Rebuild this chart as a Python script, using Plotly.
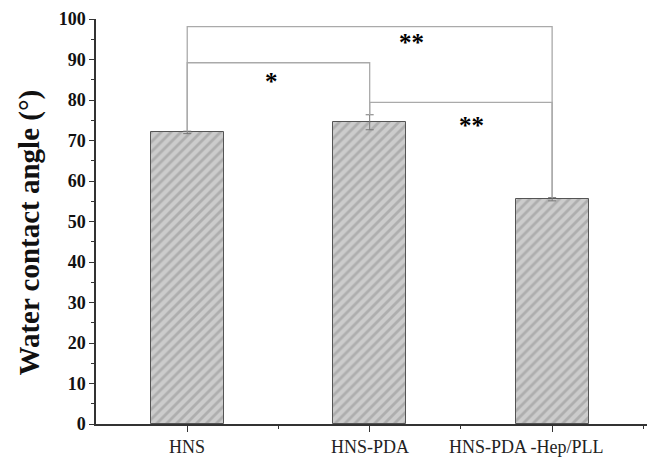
import plotly.graph_objects as go

categories = ["HNS", "HNS-PDA", "HNS-PDA -Hep/PLL"]
contact_angle = [72.0, 74.5, 55.5]
error = [0.3, 1.85, 0.4]
y_ticks = [0, 10, 20, 30, 40, 50, 60, 70, 80, 90, 100]

# significance brackets: (start category index, end category index, bracket height, label, label x, label y)
brackets = [
    (0, 2, 98.1, "**", 1.23, 95.0),
    (0, 1, 89.2, "*", 0.46, 85.3),
    (1, 2, 79.4, "**", 1.56, 74.5),
]

x = list(range(len(categories)))
tops = [v + e for v, e in zip(contact_angle, error)]

fig = go.Figure()
fig.add_trace(go.Bar(
    x=x, y=contact_angle, width=0.4,
    marker=dict(
        color="#cfcfcf",
        line=dict(color="#555555", width=1),
        pattern=dict(shape="/", fgcolor="#909090", bgcolor="#cccccc", size=7, solidity=0.4),
    ),
    error_y=dict(type="data", array=error, visible=True, color="#777777", thickness=1, width=4),
    showlegend=False,
))

line_style = dict(color="#aaaaaa", width=1.3)
for i0, i1, h, lab, lx, ly in brackets:
    fig.add_trace(go.Scatter(
        x=[x[i0], x[i0], x[i1], x[i1]],
        y=[tops[i0], h, h, tops[i1]],
        mode="lines", line=line_style, showlegend=False, hoverinfo="skip",
    ))
    fig.add_annotation(
        x=lx, y=ly, xref="x", yref="y", text="<b>" + lab + "</b>", showarrow=False,
        font=dict(family="Liberation Serif", size=25, color="#000000"),
        yshift=-3,
    )

label_shift = [0, 0, -26]
for xi, lab, sh in zip(x, categories, label_shift):
    fig.add_annotation(
        x=xi, y=0, xref="x", yref="paper", text=lab, showarrow=False,
        xanchor="center", yanchor="top", xshift=sh, yshift=-11,
        font=dict(family="Liberation Serif", size=18, color="#222222"),
    )

fig.add_annotation(
    x=0, y=0.5, xref="paper", yref="paper", xshift=-67, yshift=-11,
    text="<b>Water contact angle (°)</b>", textangle=-90, showarrow=False,
    xanchor="center", yanchor="middle",
    font=dict(family="Liberation Serif", size=29, color="#111111"),
)

fig.update_xaxes(
    range=[-0.5, 2.52], tickvals=x, ticktext=["", "", ""],
    showline=True, linecolor="#333333", linewidth=1.5,
    ticks="outside", ticklen=6, tickcolor="#333333", tickwidth=1.3,
    minor=dict(tickvals=[0.5, 1.5, 2.5], ticks="outside", ticklen=3, tickcolor="#333333", tickwidth=1.3),
    showgrid=False, zeroline=False,
)
fig.update_yaxes(
    range=[0, 100], tickvals=y_ticks, ticktext=["<b>%d</b>" % t for t in y_ticks],
    showline=True, linecolor="#333333", linewidth=1.5,
    ticks="outside", ticklen=5, tickcolor="#333333", tickwidth=1.3,
    minor=dict(dtick=5, tick0=0, ticks="outside", ticklen=3, tickcolor="#333333", tickwidth=1.3),
    tickfont=dict(family="Liberation Serif", size=18, color="#111111"),
    showgrid=False, zeroline=False,
)
fig.update_layout(
    width=656, height=460,
    margin=dict(l=96, r=9, t=15, b=36),
    plot_bgcolor="white", paper_bgcolor="white",
    bargap=0,
)
fig.write_html("out.html")
